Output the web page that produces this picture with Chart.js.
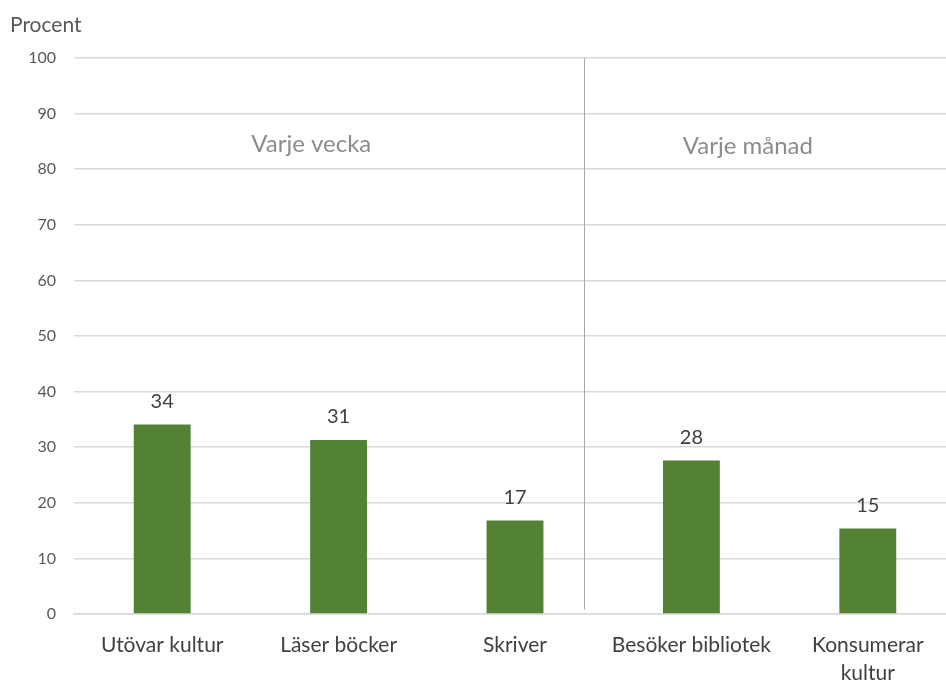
<!DOCTYPE html>
<html>
<head>
<meta charset="utf-8">
<script src="https://cdn.jsdelivr.net/npm/chart.js@4"></script>
<style>
  html, body { margin:0; padding:0; background:#fff; overflow:hidden; }
  #wrap { width:960px; height:684px; }
</style>
</head>
<body>
<div id="wrap"><canvas id="c" width="960" height="684"></canvas></div>
<script>
// data
const categories = ['Utövar kultur', 'Läser böcker', 'Skriver', 'Besöker bibliotek', ['Konsumerar', 'kultur']];
const values = [34.1, 31.3, 16.8, 27.6, 15.4];
const valueLabels = ['34', '31', '17', '28', '15'];
const groupLabels = ['Varje vecka', 'Varje månad'];
const groupPos = [[0.845, 84.5], [3.32, 84.2]];   // [category index, y value]
const dividerAt = 2.39;                            // category index of the separator line

const FONT = 'Lato, "Open Sans", sans-serif';

const overlay = {
  id: 'overlay',
  afterDatasetsDraw(chart) {
    const { ctx, scales: { x, y } } = chart;
    ctx.save();
    // axis title
    ctx.fillStyle = '#595959';
    ctx.font = '21px ' + FONT;
    ctx.textAlign = 'left'; ctx.textBaseline = 'middle';
    ctx.fillText('Procent', 10, 25);
    // separator
    const dx = Math.round(x.getPixelForValue(dividerAt)) + 0.5;
    ctx.strokeStyle = '#a6a6a6'; ctx.lineWidth = 1;
    ctx.beginPath(); ctx.moveTo(dx, y.getPixelForValue(100)); ctx.lineTo(dx, y.getPixelForValue(0.8)); ctx.stroke();
    // group labels
    ctx.fillStyle = '#8c8c8c';
    ctx.font = '24px ' + FONT;
    ctx.textAlign = 'center';
    groupLabels.forEach((t, i) => {
      ctx.fillText(t, x.getPixelForValue(groupPos[i][0]), y.getPixelForValue(groupPos[i][1]));
    });
    // value labels
    ctx.fillStyle = '#404040';
    ctx.font = '20px ' + FONT;
    ctx.textBaseline = 'bottom';
    chart.getDatasetMeta(0).data.forEach((bar, i) => {
      ctx.fillText(valueLabels[i], bar.x, bar.y - 13);
    });
    ctx.restore();
  }
};

new Chart(document.getElementById('c'), {
  type: 'bar',
  data: {
    labels: categories,
    datasets: [{ data: values, backgroundColor: '#548235', barPercentage: 0.645, categoryPercentage: 0.5 }]
  },
  options: {
    responsive: false, animation: false,
    layout: { padding: { top: 58, right: 4, left: 0, bottom: 0 } },
    plugins: { legend: { display: false }, tooltip: { enabled: false } },
    scales: {
      x: {
        afterFit(s) { s.height = 70; },
        grid: { display: false },
        border: { color: '#d9d9d9', width: 1.5 },
        ticks: { color: '#404040', font: { family: FONT, size: 21, lineHeight: 1.35 }, padding: 9, maxRotation: 0, autoSkip: false }
      },
      y: {
        min: 0, max: 100,
        afterFit(s) { s.width = 74; },
        grid: { color: '#d9d9d9', lineWidth: 1.5, drawTicks: false },
        border: { display: false },
        ticks: { stepSize: 10, color: '#595959', font: { family: FONT, size: 16 }, padding: 18 }
      }
    }
  },
  plugins: [overlay]
});
</script>
</body>
</html>
